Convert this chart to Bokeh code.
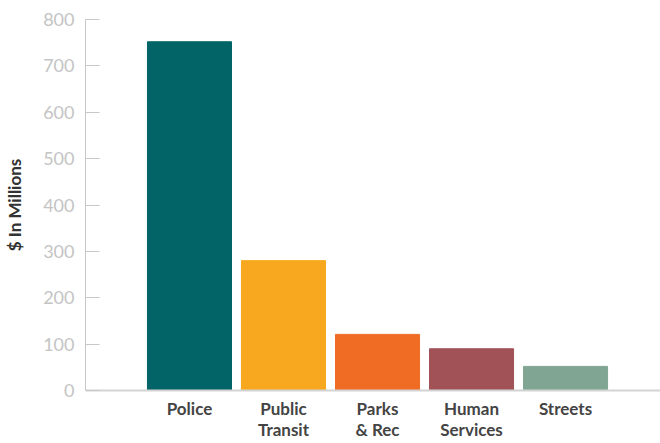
from bokeh.plotting import figure
from bokeh.models import Range1d, FixedTicker, ColumnDataSource
from bokeh.embed import file_html
from bokeh.resources import INLINE

categories = ["Police", "Public\nTransit", "Parks\n& Rec", "Human\nServices", "Streets"]
values = [752, 280, 121, 90, 52]
colors = ["#026466", "#f7a81e", "#f06b24", "#a05257", "#80a693"]
y_ticks = [0, 100, 200, 300, 400, 500, 600, 700, 800]

xs = list(range(len(categories)))
src = ColumnDataSource(dict(x=xs, top=values, color=colors))

p = figure(width=660, height=443, output_backend="svg", toolbar_location=None,
           x_range=Range1d(-1.106, 5.01), y_range=Range1d(0, 800),
           min_border_left=85, min_border_top=19, min_border_right=0, min_border_bottom=53)
p.vbar(x="x", top="top", bottom=0, width=0.894, color="color", source=src)

p.outline_line_color = None
p.xgrid.visible = False
p.ygrid.visible = False

p.yaxis.ticker = FixedTicker(ticks=y_ticks)
p.yaxis.axis_line_color = "#c8c8c8"
p.yaxis.major_tick_line_color = "#c8c8c8"
p.yaxis.major_tick_in = 14
p.yaxis.major_tick_out = 0
p.yaxis.minor_tick_line_color = None
p.yaxis.major_label_standoff = 11
p.yaxis.major_label_text_color = "#c4c4c4"
p.yaxis.major_label_text_font = "Lato"
p.yaxis.major_label_text_font_size = "18px"
p.yaxis.axis_label = "$ In Millions"
p.yaxis.axis_label_text_font = "Lato"
p.yaxis.axis_label_text_font_style = "bold"
p.yaxis.axis_label_text_font_size = "17px"
p.yaxis.axis_label_text_color = "#333333"
p.yaxis.axis_label_standoff = 15

p.xaxis.ticker = FixedTicker(ticks=xs)
p.xaxis.major_label_overrides = {i: c for i, c in enumerate(categories)}
p.xaxis.axis_line_color = "#d3d3d3"
p.xaxis.axis_line_width = 2
p.xaxis.major_tick_line_color = None
p.xaxis.minor_tick_line_color = None
p.xaxis.major_label_standoff = 1
p.xaxis.major_label_text_color = "#444444"
p.xaxis.major_label_text_font = "Lato"
p.xaxis.major_label_text_font_style = "bold"
p.xaxis.major_label_text_font_size = "17px"
p.xaxis.major_label_text_line_height = 1.0

open("out.html", "w").write(file_html(p, INLINE))
